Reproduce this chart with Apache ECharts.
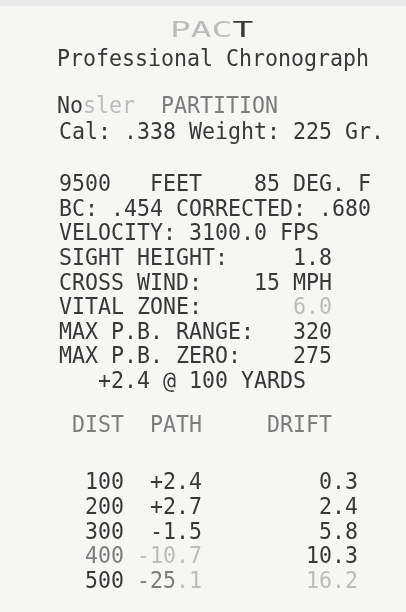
<!DOCTYPE html>
<html>
<head>
<meta charset="utf-8">
<script src="https://cdn.jsdelivr.net/npm/echarts@6/dist/echarts.min.js"></script>
<style>
  html, body { margin: 0; padding: 0; background: #f6f6f4; }
  #receipt { width: 406px; height: 612px; }
</style>
</head>
<body>
<div id="receipt"></div>
<script>
// printout values
const brand = 'PACT'
const subtitle = 'Professional Chronograph'
const bulletMaker = 'Nosler'
const bulletType = 'PARTITION'
const caliber = '.338'
const weightGr = 225
const altitudeFt = 9500
const tempF = 85
const bcRaw = '.454'
const bcCorrected = '.680'
const velocityFps = '3100.0'
const settingLabels = ['SIGHT HEIGHT:', 'CROSS WIND:', 'VITAL ZONE:', 'MAX P.B. RANGE:', 'MAX P.B. ZERO:']
const settingValues = ['1.8', '15 MPH', '6.0', '320', '275']
const fadedSettings = ['VITAL ZONE:']
const zeroNote = '+2.4 @ 100 YARDS'

const tableHeads = ['DIST', 'PATH', 'DRIFT']
const distances = [100, 200, 300, 400, 500]
const pathIn = [2.4, 2.7, -1.5, -10.7, -25.1]
const driftIn = [0.3, 2.4, 5.8, 10.3, 16.2]

const chart = echarts.init(document.getElementById('receipt'), null, { renderer: 'canvas' })

const FONT = '21.6px "DejaVu Sans Mono", "Liberation Mono", monospace'
const INK = '#383838'
const LEFT = 59

function line(text, y, extra) {
  return Object.assign({
    type: 'text',
    x: LEFT,
    y: y,
    scaleY: 1.1,
    style: {
      text: text,
      font: FONT,
      fill: INK,
      verticalAlign: 'middle',
      rich: {
        f: { fill: '#bcbcbc', font: FONT },
        m: { fill: '#7c7c7c', font: FONT }
      }
    }
  }, extra || {})
}

const fmtPath = v => (v > 0 ? '+' : '') + v.toFixed(1)

const elements = []
// paper edge at the top
elements.push({
  type: 'rect',
  shape: { x: 0, y: 0, width: 406, height: 6 },
  style: { fill: '#e9e9e9' }
})

elements.push(line('{f|' + brand.slice(0, 3) + '}' + brand.slice(3), 31, { x: 170, scaleX: 1.6, scaleY: 1.0 }))
elements.push(line(subtitle, 60, { x: 57 }))
elements.push(line(bulletMaker.slice(0, 2) + '{f|' + bulletMaker.slice(2) + '}  {m|' + bulletType + '}', 107, { x: 57 }))
elements.push(line('Cal: ' + caliber + ' Weight: ' + weightGr + ' Gr.', 133))

const step = 24.6
const bodyTop = 185
const body = [
  altitudeFt + '   FEET    ' + tempF + ' DEG. F',
  'BC: ' + bcRaw + ' CORRECTED: ' + bcCorrected,
  'VELOCITY: ' + velocityFps + ' FPS'
]
settingLabels.forEach((lab, i) => {
  const val = settingValues[i]
  const txt = lab.padEnd(21 - val.length)
  body.push(fadedSettings.includes(lab) ? txt + '{f|' + val + '}' : txt + val)
})
body.push('   ' + zeroNote)
body.forEach((t, i) => elements.push(line(t, bodyTop + i * step)))

// trajectory table
const headTxt = ' ' + tableHeads[0] + '  ' + tableHeads[1] + '     ' + tableHeads[2]
elements.push(line('{m|' + headTxt + '}', 426))
distances.forEach((d, i) => {
  const ds = String(d).padStart(5)
  const ps = fmtPath(pathIn[i]).padStart(6)
  const rs = driftIn[i].toFixed(1).padStart(12)
  let txt
  if (i === 3) txt = '{m|' + ds + '}{f|' + ps + '}' + rs
  else if (i === 4) txt = ds + '{m|' + ps.slice(0, -2) + '}{f|' + ps.slice(-2) + rs + '}'
  else txt = ds + ps + rs
  elements.push(line(txt, 483 + i * step * 1.005))
})

chart.setOption({
  backgroundColor: '#f6f6f4',
  animation: false,
  graphic: { elements: elements }
})
</script>
</body>
</html>
